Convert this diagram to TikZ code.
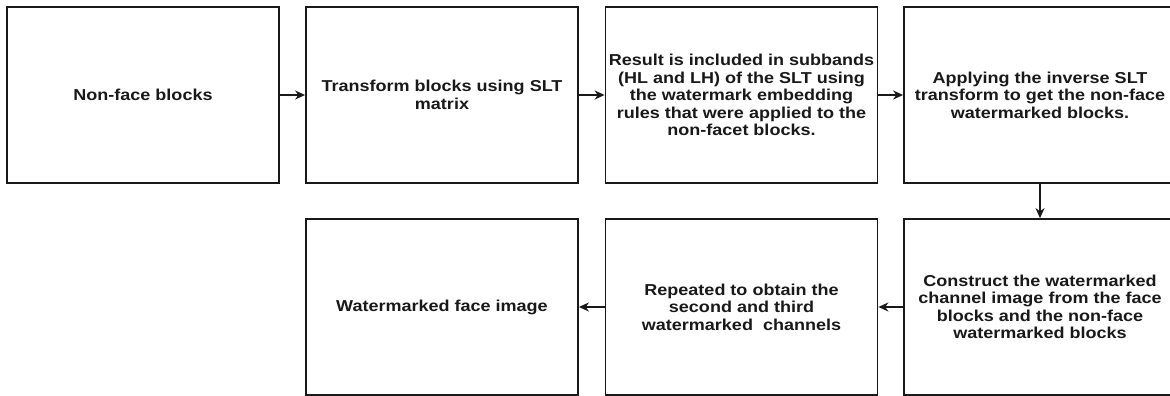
\documentclass[tikz,border=0pt]{standalone}
\usepackage{fontspec}
\setmainfont{Liberation Sans}[FakeStretch=1.14]
\usetikzlibrary{arrows.meta}
\tikzset{
  stepbox/.style={draw=black!90, line width=1.8pt, minimum width=272pt, minimum height=176pt,
    inner sep=0pt, align=center, font=\fontsize{15.8pt}{17.5pt}\selectfont\bfseries, text=black!90},
  flow/.style={draw=black!90, line width=1.8pt, -{Stealth[length=10pt,width=9pt]}}
}
\begin{document}
\begin{tikzpicture}[x=1pt,y=-1pt]
\clip (0,0) rectangle (1170,396);
\fill[white] (0,0) rectangle (1170,396);
\node[stepbox] (b1) at (143,95) {Non-face blocks};
\node[stepbox] (b2) at (442,95) {Transform blocks using SLT\\matrix};
\node[stepbox] (b3) at (741.5,95) {Result is included in subbands\\(HL and LH) of the SLT using\\the watermark embedding\\rules that were applied to the\\non-facet blocks.};
\node[stepbox] (b4) at (1040,95) {Applying the inverse SLT\\transform to get the non-face\\watermarked blocks.};
\node[stepbox] (b5) at (1040,307) {Construct the watermarked\\channel image from the face\\blocks and the non-face\\watermarked blocks};
\node[stepbox] (b6) at (741.5,307) {Repeated to obtain the\\second and third\\watermarked~~channels};
\node[stepbox] (b7) at (442,307) {Watermarked face image};
\draw[flow] (b1) -- (b2);
\draw[flow] (b2) -- (b3);
\draw[flow] (b3) -- (b4);
\draw[flow] (b4) -- (b5);
\draw[flow] (b5) -- (b6);
\draw[flow] (b6) -- (b7);
\end{tikzpicture}
\end{document}
